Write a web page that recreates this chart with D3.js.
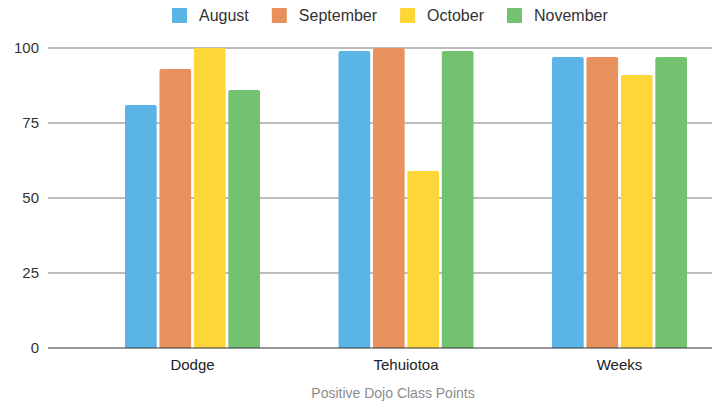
<!DOCTYPE html>
<html>
<head>
<meta charset="utf-8">
<script src="https://cdn.jsdelivr.net/npm/d3@7"></script>
<style>
  html, body { margin: 0; padding: 0; background: #fff; }
  svg { display: block; font-family: "Liberation Sans", Arial, sans-serif; }
</style>
</head>
<body>
<svg id="chart" width="717" height="404"></svg>
<script>
const categories = ["Dodge", "Tehuiotoa", "Weeks"];
const seriesNames = ["August", "September", "October", "November"];
const august    = [81, 99, 97];
const september = [93, 100, 97];
const october   = [100, 59, 91];
const november  = [86, 99, 97];
const yTicks = [0, 25, 50, 75, 100];
const colors = ["#5bb4e6", "#e9915c", "#fdd638", "#73c270"];
const axisTitle = "Positive Dojo Class Points";

const seriesValues = [august, september, october, november];

const svg = d3.select("#chart");

const y = d3.scaleLinear().domain([0, 100]).range([348, 48]);
const x0 = d3.scalePoint().domain(categories).range([192.5, 619.5]);
const x1 = d3.scaleBand().domain(seriesNames).range([-67.5, 67.5]).paddingInner(0.08);

// gridlines
svg.append("g").selectAll("line").data(yTicks.filter(t => t !== 0)).join("line")
  .attr("x1", 48).attr("x2", 712)
  .attr("y1", d => y(d)).attr("y2", d => y(d))
  .attr("stroke", "#7a7a7a").attr("stroke-width", 1);

// y tick labels
svg.append("g").selectAll("text").data(yTicks).join("text")
  .attr("x", 39).attr("y", d => y(d))
  .attr("dy", "0.35em")
  .attr("text-anchor", "end")
  .attr("font-size", 15)
  .attr("fill", "#333")
  .text(d => d);

// bars
const r = 2;
function barPath(x, w, yTop, yBot) {
  return `M${x},${yBot}V${yTop + r}Q${x},${yTop} ${x + r},${yTop}H${x + w - r}Q${x + w},${yTop} ${x + w},${yTop + r}V${yBot}Z`;
}
const groups = svg.append("g").selectAll("g").data(categories).join("g")
  .attr("transform", d => `translate(${x0(d)},0)`);
groups.selectAll("path").data((c, ci) => seriesNames.map((s, si) => ({ s, si, v: seriesValues[si][ci] })))
  .join("path")
  .attr("d", d => barPath(x1(d.s), x1.bandwidth(), y(d.v), y(0)))
  .attr("fill", d => colors[d.si]);

// baseline
svg.append("line")
  .attr("x1", 48).attr("x2", 712)
  .attr("y1", y(0)).attr("y2", y(0))
  .attr("stroke", "#333").attr("stroke-width", 1.2);

// x labels
svg.append("g").selectAll("text").data(categories).join("text")
  .attr("x", d => x0(d)).attr("y", 365)
  .attr("dy", "0.35em")
  .attr("text-anchor", "middle")
  .attr("font-size", 15)
  .attr("fill", "#222")
  .text(d => d);

// axis title
svg.append("text")
  .attr("x", 393).attr("y", 393)
  .attr("dy", "0.35em")
  .attr("text-anchor", "middle")
  .attr("font-size", 14)
  .attr("fill", "#8c8c8c")
  .text(axisTitle);

// legend
const legend = svg.append("g");
let lx = 172;
seriesNames.forEach((s, i) => {
  legend.append("rect").attr("x", lx).attr("y", 8).attr("width", 15).attr("height", 15)
    .attr("rx", 1).attr("fill", colors[i]);
  const t = legend.append("text").attr("x", lx + 27).attr("y", 15.5).attr("dy", "0.35em")
    .attr("font-size", 16).attr("fill", "#333").text(s);
  lx = lx + 27 + t.node().getComputedTextLength() + 23;
});
</script>
</body>
</html>
